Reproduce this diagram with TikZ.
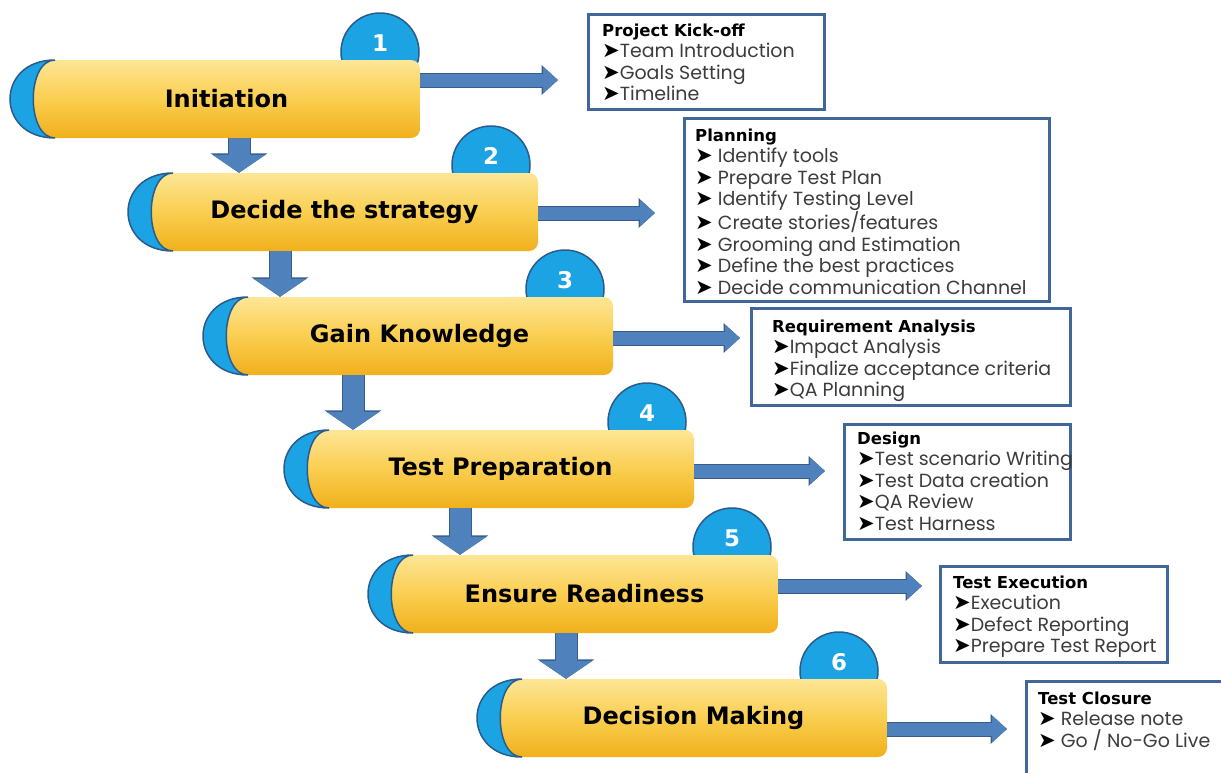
\documentclass[tikz,border=0pt]{standalone}
\usepackage{fontspec}
\setmainfont{Poppins}
\newfontfamily\barfont{DejaVu Sans}
\newfontfamily\symfont{DejaVu Sans}
\usetikzlibrary{arrows.meta,calc}

\definecolor{moonblue}{RGB}{27,163,227}
\definecolor{moonline}{RGB}{42,91,140}
\definecolor{arrowblue}{RGB}{79,129,189}
\definecolor{arrowline}{RGB}{56,93,138}
\definecolor{boxline}{RGB}{65,102,154}
\definecolor{barTop}{RGB}{253,230,150}
\definecolor{barMid}{RGB}{250,206,80}
\definecolor{barBot}{RGB}{240,176,28}
\definecolor{itemgray}{RGB}{60,60,60}

\tikzstyle{moonC}=[fill=moonblue, draw=moonline, line width=1.5pt]
\tikzstyle{barY}=[top color=barTop, bottom color=barBot, middle color=barMid]
\tikzstyle{barT}=[minimum width=387pt, minimum height=78pt, inner sep=0pt, font=\barfont\bfseries\fontsize{24}{28}\selectfont]
\tikzstyle{numC}=[circle, fill=moonblue, draw=moonline, line width=1.5pt, minimum size=78pt, inner sep=0pt]
\tikzstyle{numT}=[text=white, font=\barfont\bfseries\fontsize{23}{26}\selectfont, inner sep=0pt]
\tikzstyle{downE}=[draw=arrowblue, line width=21pt, -{Triangle[length=18pt,width=52pt]}, preaction={draw=arrowline, line width=23pt, -{Triangle[length=19.5pt,width=56pt]}}]
\tikzstyle{rightE}=[draw=arrowblue, line width=13pt, -{Triangle[length=15pt,width=25pt]}, preaction={draw=arrowline, line width=15pt, -{Triangle[length=16.5pt,width=29pt]}}]
\tikzstyle{boxB}=[draw=boxline, line width=2.5pt, anchor=north west, inner sep=0pt]
\tikzstyle{boxT}=[anchor=north west, align=left, inner sep=0pt, text=itemgray, font=\fontsize{19}{21.5}\selectfont]

\newcommand{\boxhead}[1]{{\color{black}\barfont\bfseries\fontsize{16.5}{21.5}\selectfont #1}}
\newcommand{\bul}{{\color{black}\symfont\fontsize{21}{16}\selectfont ➤}}

\begin{document}
\begin{tikzpicture}[x=1pt,y=-1pt]
    \useasboundingbox (0,0) rectangle (1221,772);
    \clip (0,0) rectangle (1221,772);

    %%%%%  Etapas  %%%%%
    \foreach \n/\bx/\by/\cx/\lab in {1/10/60/380/Initiation,
        2/128/173/491/Decide the strategy,
        3/203/297/565/Gain Knowledge,
        4/284/430/647/Test Preparation,
        5/368/555/732/Ensure Readiness,
        6/477/679/839/Decision Making}{
      \node (n\n) [numC] at (\cx,{\by-8}) {};
      \shade [barY] ({\bx+45},\by) -- ({\bx+300},\by) [rounded corners=9pt] -- ({\bx+410},\by)
        -- ({\bx+410},{\by+78}) -- ({\bx+300},{\by+78}) [sharp corners] -- ({\bx+45},{\by+78})
        .. controls ({\bx+16},{\by+78}) and ({\bx+16},\by) .. cycle;
      \filldraw [moonC] ({\bx+45},\by) .. controls ({\bx-15},\by) and ({\bx-15},{\by+78})
        .. ({\bx+45},{\by+78}) .. controls ({\bx+16},{\by+78}) and ({\bx+16},\by) .. cycle;
      \node (s\n) [barT] at ({\bx+216.5},{\by+39}) {\lab};
      \node (m\n) [numT] at ([yshift=9pt]n\n.center) {\n};
    }

    %%%%%  Cajas  %%%%%
    \node (b1) [boxB, minimum width=236pt, minimum height=95pt]  at (587,13) {};
    \node (b2) [boxB, minimum width=365pt, minimum height=183pt] at (683,117) {};
    \node (b3) [boxB, minimum width=319pt, minimum height=97pt]  at (750,307) {};
    \node (b4) [boxB, minimum width=226pt, minimum height=115pt] at (843,423) {};
    \node (b5) [boxB, minimum width=227pt, minimum height=96pt]  at (939,565) {};
    \node (b6) [boxB, minimum width=215pt, minimum height=120pt] at (1025,680) {};

    \node (t1) [boxT] at (602,23.5) {\boxhead{Project Kick-off}\\\bul Team Introduction\\\bul Goals Setting\\\bul Timeline};
    \node (t2) [boxT] at (695,128.5) {\boxhead{Planning}\\\bul\ Identify tools\\\bul\ Prepare Test Plan\\\bul\ Identify Testing Level\\\bul\ Create stories/features\\\bul\ Grooming and Estimation\\\bul\ Define the best practices\\\bul\ Decide communication Channel};
    \node (t3) [boxT] at (772,319.5) {\boxhead{Requirement Analysis}\\\bul Impact Analysis\\\bul Finalize acceptance criteria\\\bul QA Planning};
    \node (t4) [boxT] at (857,431.5) {\boxhead{Design}\\\bul Test scenario Writing\\\bul Test Data creation\\\bul QA Review\\\bul Test Harness};
    \node (t5) [boxT] at (953,575.5) {\boxhead{Test Execution}\\\bul Execution\\\bul Defect Reporting\\\bul Prepare Test Report};
    \node (t6) [boxT] at (1038,691.5) {\boxhead{Test Closure}\\\bul\ Release note\\\bul\ Go / No-Go Live};

    %%%%%  Flechas hacia abajo  %%%%%
    \coordinate (d1) at (239,0);
    \coordinate (d2) at (280,0);
    \coordinate (d3) at (353,0);
    \coordinate (d4) at (460,0);
    \coordinate (d5) at (566,0);
    \draw [downE] (s1.south -| d1) -- (s2.north -| d1);
    \draw [downE] (s2.south -| d2) -- (s3.north -| d2);
    \draw [downE] (s3.south -| d3) -- (s4.north -| d3);
    \draw [downE] (s4.south -| d4) -- (s5.north -| d4);
    \draw [downE] (s5.south -| d5) -- (s6.north -| d5);

    %%%%%  Flechas hacia las cajas  %%%%%
    \coordinate (r1) at (558,80);
    \coordinate (r2) at (655,213);
    \coordinate (r3) at (740,338);
    \coordinate (r4) at (825,471);
    \coordinate (r5) at (922,586);
    \coordinate (r6) at (1007,729);
    \draw [rightE] (s1.east |- r1) -- (r1);
    \draw [rightE] (s2.east |- r2) -- (r2);
    \draw [rightE] (s3.east |- r3) -- (r3);
    \draw [rightE] (s4.east |- r4) -- (r4);
    \draw [rightE] (s5.east |- r5) -- (r5);
    \draw [rightE] (s6.east |- r6) -- (r6);
\end{tikzpicture}
\end{document}
